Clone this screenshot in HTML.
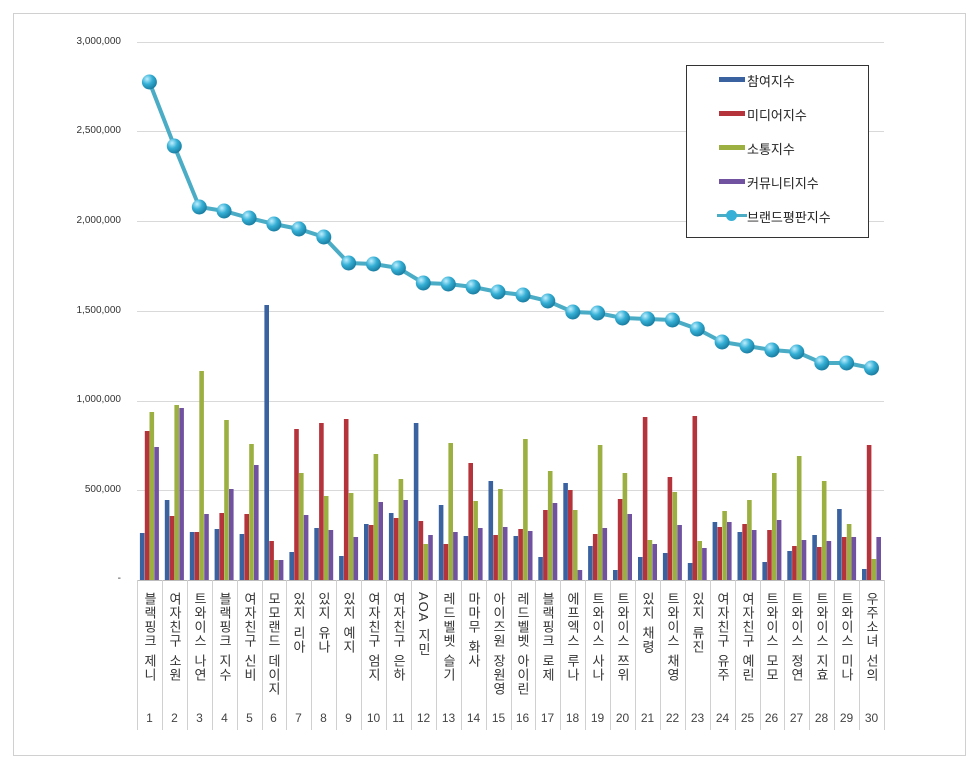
<!DOCTYPE html>
<html><head><meta charset="utf-8">
<style>
body{margin:0;background:#fff;width:977px;height:767px;overflow:hidden;font-family:"Liberation Sans","Noto Sans CJK KR",sans-serif;}
#wrap{position:relative;width:977px;height:767px;}
.lab{position:absolute;top:592px;width:24px;writing-mode:vertical-rl;text-orientation:mixed;font-size:13px;color:#333;line-height:24px;letter-spacing:1px;font-family:"Liberation Sans","Noto Sans CJK KR",sans-serif;}
.lab i{display:inline-block;height:6px;}
.num{position:absolute;top:711px;width:25px;text-align:center;font-size:12px;color:#444;}
.yl{position:absolute;right:856px;font-size:10px;color:#333;}
</style></head><body><div id="wrap">
<svg id="s" width="977" height="767" style="position:absolute;left:0;top:0">
<defs><radialGradient id="g" cx="0.35" cy="0.3" r="0.7"><stop offset="0" stop-color="#bfefff"/><stop offset="0.5" stop-color="#36b0d6"/><stop offset="1" stop-color="#1a7fa3"/></radialGradient></defs>
<rect x="13.5" y="13.5" width="952" height="742" fill="none" stroke="#d0d0d0"/>
</svg>
<div class="yl" style="top:36px">3,000,000</div>
<div class="yl" style="top:125px">2,500,000</div>
<div class="yl" style="top:215px">2,000,000</div>
<div class="yl" style="top:305px">1,500,000</div>
<div class="yl" style="top:394px">1,000,000</div>
<div class="yl" style="top:484px">500,000</div>
<div class="yl" style="top:573px">-</div>
<div id="labs">
<div class="lab" style="left:137px">블랙핑크<i></i>제니</div>
<div class="lab" style="left:162px">여자친구<i></i>소원</div>
<div class="lab" style="left:187px">트와이스<i></i>나연</div>
<div class="lab" style="left:212px">블랙핑크<i></i>지수</div>
<div class="lab" style="left:237px">여자친구<i></i>신비</div>
<div class="lab" style="left:261px">모모랜드<i></i>데이지</div>
<div class="lab" style="left:286px">있지<i></i>리아</div>
<div class="lab" style="left:311px">있지<i></i>유나</div>
<div class="lab" style="left:336px">있지<i></i>예지</div>
<div class="lab" style="left:361px">여자친구<i></i>엄지</div>
<div class="lab" style="left:386px">여자친구<i></i>은하</div>
<div class="lab" style="left:411px">AOA<i></i>지민</div>
<div class="lab" style="left:436px">레드벨벳<i></i>슬기</div>
<div class="lab" style="left:461px">마마무<i></i>화사</div>
<div class="lab" style="left:486px">아이즈원<i></i>장원영</div>
<div class="lab" style="left:510px">레드벨벳<i></i>아이린</div>
<div class="lab" style="left:535px">블랙핑크<i></i>로제</div>
<div class="lab" style="left:560px">에프엑스<i></i>루나</div>
<div class="lab" style="left:585px">트와이스<i></i>사나</div>
<div class="lab" style="left:610px">트와이스<i></i>쯔위</div>
<div class="lab" style="left:635px">있지<i></i>채령</div>
<div class="lab" style="left:660px">트와이스<i></i>채영</div>
<div class="lab" style="left:685px">있지<i></i>류진</div>
<div class="lab" style="left:710px">여자친구<i></i>유주</div>
<div class="lab" style="left:735px">여자친구<i></i>예린</div>
<div class="lab" style="left:759px">트와이스<i></i>모모</div>
<div class="lab" style="left:784px">트와이스<i></i>정연</div>
<div class="lab" style="left:809px">트와이스<i></i>지효</div>
<div class="lab" style="left:834px">트와이스<i></i>미나</div>
<div class="lab" style="left:859px">우주소녀<i></i>선의</div>
</div>
<div id="nums">
<div class="num" style="left:137px">1</div><div class="num" style="left:162px">2</div><div class="num" style="left:187px">3</div><div class="num" style="left:212px">4</div><div class="num" style="left:237px">5</div><div class="num" style="left:261px">6</div><div class="num" style="left:286px">7</div><div class="num" style="left:311px">8</div><div class="num" style="left:336px">9</div><div class="num" style="left:361px">10</div><div class="num" style="left:386px">11</div><div class="num" style="left:411px">12</div><div class="num" style="left:436px">13</div><div class="num" style="left:461px">14</div><div class="num" style="left:486px">15</div><div class="num" style="left:510px">16</div><div class="num" style="left:535px">17</div><div class="num" style="left:560px">18</div><div class="num" style="left:585px">19</div><div class="num" style="left:610px">20</div><div class="num" style="left:635px">21</div><div class="num" style="left:660px">22</div><div class="num" style="left:685px">23</div><div class="num" style="left:710px">24</div><div class="num" style="left:735px">25</div><div class="num" style="left:759px">26</div><div class="num" style="left:784px">27</div><div class="num" style="left:809px">28</div><div class="num" style="left:834px">29</div><div class="num" style="left:859px">30</div>
</div>
<div style="position:absolute;left:686px;top:65px;width:181px;height:171px;border:1px solid #333;background:#fff;font-size:13px;color:#222;">
<div style="position:absolute;left:32px;top:11px;width:26px;height:5px;background:#3b62a0"></div><div style="position:absolute;left:60px;top:5px">참여지수</div>
<div style="position:absolute;left:32px;top:45px;width:26px;height:5px;background:#b5343b"></div><div style="position:absolute;left:60px;top:39px">미디어지수</div>
<div style="position:absolute;left:32px;top:79px;width:26px;height:5px;background:#9bb040"></div><div style="position:absolute;left:60px;top:73px">소통지수</div>
<div style="position:absolute;left:32px;top:113px;width:26px;height:5px;background:#7152a0"></div><div style="position:absolute;left:60px;top:107px">커뮤니티지수</div>
<div style="position:absolute;left:30px;top:148px;width:30px;height:3px;background:#4bacc6"></div><div style="position:absolute;left:39px;top:144px;width:11px;height:11px;border-radius:50%;background:#36b0d6"></div><div style="position:absolute;left:60px;top:141px">브랜드평판지수</div>
</div>
</div>
<script>
var s=document.getElementById('s'),h='';
var X0=137,W=24.9,Y0=580;
[42,131,221,311,401,490].forEach(function(y){h+='<line x1="137" x2="884" y1="'+(y+.5)+'" y2="'+(y+.5)+'" stroke="#d9d9d9"/>';});
h+='<line x1="137" x2="884" y1="580.5" y2="580.5" stroke="#bbb"/>';
for(var i=0;i<=30;i++){var x=Math.round(X0+i*W)+.5;h+='<line x1="'+x+'" x2="'+x+'" y1="580" y2="730" stroke="#d0d0d0"/>';}
var B=[[533,431,412,447],[500,516,405,408],[532,532,371,514],[529,513,420,489],[534,514,444,465],[305,541,560,560],[552,429,473,515],[528,423,496,530],[556,419,493,537],[524,525,454,502],[513,518,479,500],[423,521,544,535],[505,544,443,532],[536,463,501,528],[481,535,489,527],[536,529,439,531],[557,510,471,503],[483,490,510,570],[546,534,445,528],[570,499,473,514],[557,417,540,544],[553,477,492,525],[563,416,541,548],[522,527,511,522],[532,524,500,530],[562,530,473,520],[551,546,456,540],[535,547,481,541],[509,537,524,537],[569,445,559,537]];
var C=['#3b62a0','#b5343b','#9bb040','#7152a0'];
B.forEach(function(g,i){var cx=X0+(i+0.5)*W;g.forEach(function(t,k){h+='<rect x="'+(cx-9.5+k*4.8).toFixed(1)+'" y="'+t+'" width="4.6" height="'+(Y0-t)+'" fill="'+C[k]+'"/>';});});
var L=[82,146,207,211,218,224,229,237,263,264,268,283,284,287,292,295,301,312,313,318,319,320,329,342,346,350,352,363,363,368];
var p=L.map(function(y,i){return (X0+(i+0.5)*W).toFixed(1)+','+y;}).join(' ');
h+='<polyline points="'+p+'" fill="none" stroke="#4bacc6" stroke-width="4"/>';
L.forEach(function(y,i){h+='<circle cx="'+(X0+(i+0.5)*W).toFixed(1)+'" cy="'+y+'" r="7.5" fill="url(#g)"/>';});
s.insertAdjacentHTML('beforeend',h);
</script>
</body></html>
